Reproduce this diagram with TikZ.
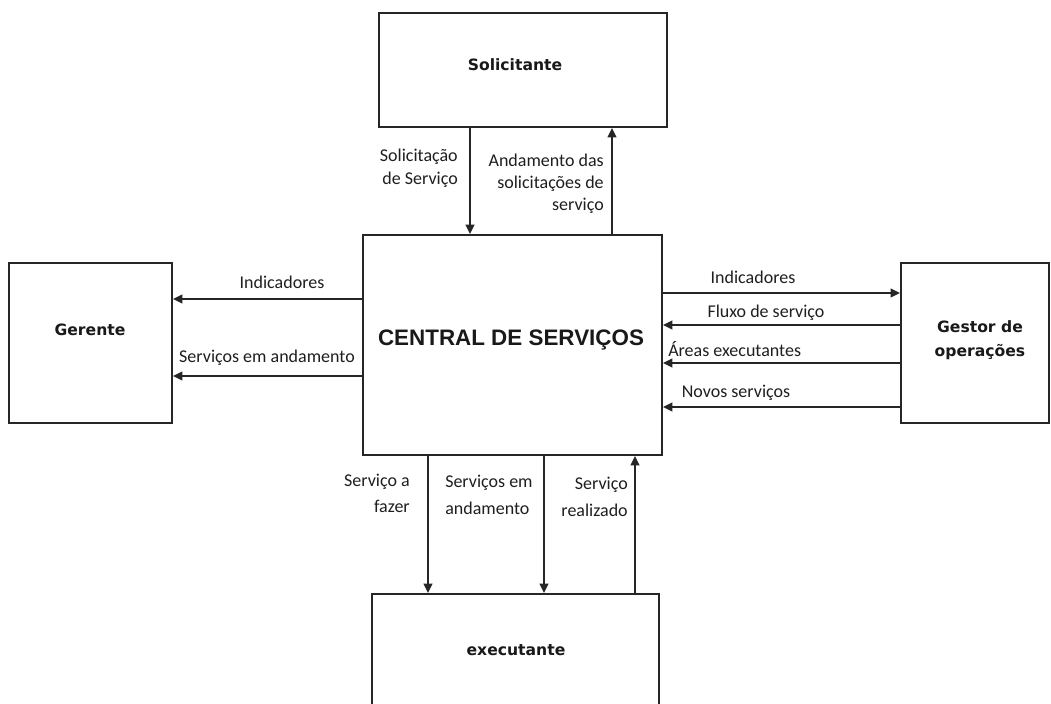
\documentclass[tikz,border=0pt]{standalone}
\usepackage{fontspec}
\newfontfamily\labfont{Carlito}
\newfontfamily\ttlfont{DejaVu Sans}
\newfontfamily\cenfont{Liberation Sans}
\usetikzlibrary{arrows.meta}
\begin{document}
\begin{tikzpicture}[x=0.75pt,y=-0.75pt,
  box/.style={draw=black!85, line width=1.5pt, inner sep=0pt, rectangle},
  ttl/.style={font=\ttlfont\bfseries\fontsize{11.7}{18}\selectfont, align=center, inner sep=0pt, text=black!90},
  cent/.style={font=\cenfont\bfseries\fontsize{16.8}{20}\selectfont, inner sep=0pt, text=black!90},
  lab/.style={font=\labfont\fontsize{13.5}{17}\selectfont, inner sep=0pt, text=black!88},
  flow/.style={draw=black!85, line width=1.5pt, -{Triangle[length=7pt,width=6.5pt]}}]
\useasboundingbox (0,0) rectangle (1051,704);
\fill[white] (0,0) rectangle (1051,704);

% boxes
\node[box, minimum width=216pt, minimum height=85.5pt] (sol) at (523,70) {};
\node[box, minimum width=224.25pt, minimum height=165pt] (cen) at (512.5,345) {};
\node[box, minimum width=122.25pt, minimum height=120pt] (ger) at (90.5,343) {};
\node[box, minimum width=111pt, minimum height=120pt] (ges) at (975,343) {};
\node[box, minimum width=215.25pt, minimum height=90pt] (exe) at (515.5,654) {};

% titles
\node[ttl] (tsol) at (515,65) {Solicitante};
\node[ttl] (tger) at (90,330) {Gerente};
\node[ttl] (tges) at (980,340) {Gestor de\\operações};
\node[ttl] (texe) at (516,650) {executante};
\node[cent] (tcen) at (511,340) {CENTRAL DE SERVIÇOS};

% helper coordinates
\coordinate (xa) at (470,0);
\coordinate (xb) at (612,0);
\coordinate (xc) at (428,0);
\coordinate (xd) at (544,0);
\coordinate (xe) at (635,0);
\coordinate (ya) at (0,299);
\coordinate (yb) at (0,376);
\coordinate (yc) at (0,293);
\coordinate (yd) at (0,325);
\coordinate (ye) at (0,363);
\coordinate (yf) at (0,407);

% connectors
\draw[flow] (sol.south -| xa) -- (cen.north -| xa);
\draw[flow] (cen.north -| xb) -- (sol.south -| xb);
\draw[flow] (cen.west |- ya) -- (ger.east |- ya);
\draw[flow] (cen.west |- yb) -- (ger.east |- yb);
\draw[flow] (cen.east |- yc) -- (ges.west |- yc);
\draw[flow] (ges.west |- yd) -- (cen.east |- yd);
\draw[flow] (ges.west |- ye) -- (cen.east |- ye);
\draw[flow] (ges.west |- yf) -- (cen.east |- yf);
\draw[flow] (cen.south -| xc) -- (exe.north -| xc);
\draw[flow] (cen.south -| xd) -- (exe.north -| xd);
\draw[flow] (exe.north -| xe) -- (cen.south -| xe);

% labels
\node[lab, align=right, anchor=east, font=\labfont\fontsize{13.5}{17.25}\selectfont] (l1) at (458,168.5) {Solicitação\\de Serviço};
\node[lab, align=right, anchor=east, font=\labfont\fontsize{13.5}{16.5}\selectfont] (l2) at (604,184) {Andamento das\\solicitações de\\serviço};
\node[lab] (l3) at (282,282) {Indicadores};
\node[lab] (l4) at (267,358) {Serviços em andamento};
\node[lab] (l5) at (753,277) {Indicadores};
\node[lab] (l6) at (766,313) {Fluxo de serviço};
\node[lab, anchor=west] (l7) at (668,349) {Áreas executantes};
\node[lab] (l8) at (736,393) {Novos serviços};
\node[lab, align=right, anchor=east, font=\labfont\fontsize{13.5}{20}\selectfont] (l9) at (410,493.5) {Serviço a\\fazer};
\node[lab, align=left, anchor=west, font=\labfont\fontsize{13.5}{20}\selectfont] (l10) at (445,495) {Serviços em\\andamento};
\node[lab, align=right, anchor=east, font=\labfont\fontsize{13.5}{20.5}\selectfont] (l11) at (628,497) {Serviço\\realizado};
\end{tikzpicture}
\end{document}
